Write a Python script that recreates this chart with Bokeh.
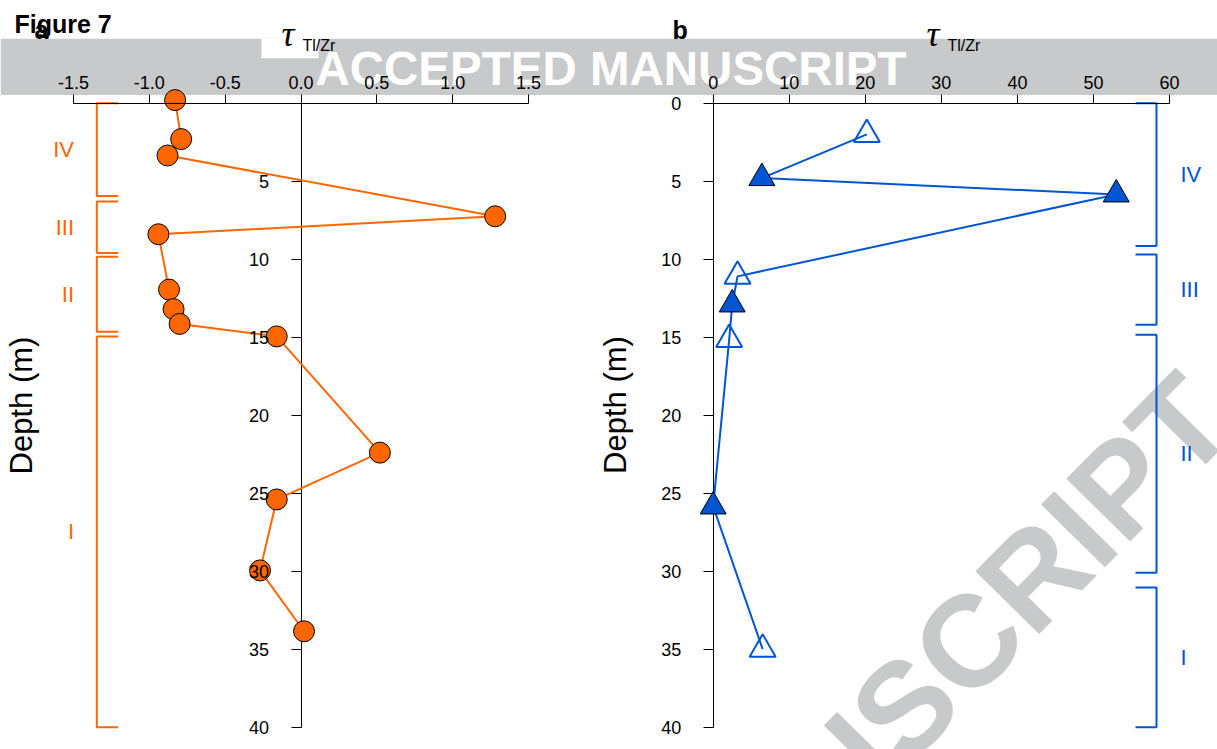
import math
from bokeh.plotting import figure
from bokeh.models import Range1d, LinearAxis, FixedTicker, PrintfTickFormatter
from bokeh.core.properties import value
from bokeh.embed import file_html
from bokeh.resources import INLINE

# ---------------- data ----------------
# panel a: tau Tl/Zr vs depth (circles)
tau_a = [-0.83, -0.79, -0.88, 1.28, -0.94, -0.87, -0.84, -0.80, -0.16, 0.52, -0.16, -0.27, 0.02]
depth_a = [-0.2, 2.3, 3.35, 7.25, 8.4, 11.95, 13.2, 14.15, 14.95, 22.4, 25.4, 29.95, 33.85]

# panel b: tau Tl/Zr vs depth (triangles; filled / open)
tau_b = [20.2, 6.4, 53.0, 3.2, 2.5, 2.1, 0.0, 6.5]
depth_b = [2.0, 4.8, 5.85, 11.1, 12.9, 15.15, 25.85, 35.0]
filled_b = [False, True, True, False, True, False, True, False]

# stratigraphic units
units = ["IV", "III", "II", "I"]
unit_top_a = [0.0, 6.3, 9.85, 14.95]
unit_bot_a = [5.95, 9.6, 14.65, 40.0]
unit_top_b = [0.0, 9.7, 14.85, 31.05]
unit_bot_b = [9.15, 14.2, 30.1, 40.0]

xticks_a = [-1.5, -1.0, -0.5, 0.0, 0.5, 1.0, 1.5]
xticks_b = [0, 10, 20, 30, 40, 50, 60]
yticks_a = [5, 10, 15, 20, 25, 30, 35, 40]
yticks_b = [0, 5, 10, 15, 20, 25, 30, 35, 40]

# ---------------- layout / style ----------------
W, H = 1217, 749
PX0_A, SCALE_A = 300.5, 151.7
PX0_B, SCALE_B = 712.7, 7.605
PY0, SCALE_Y = 102.7, 15.6

ORANGE = "#FF6600"
BLUE = "#0055D4"
GRAY = "#C8C9CB"
SANS = "Liberation Sans"


def ax(px):
    return (px - PX0_A) / SCALE_A


def bx(px):
    return (px - PX0_B) / SCALE_B


def dy(py):
    return (py - PY0) / SCALE_Y


x_range = Range1d(ax(0), ax(W))
y_range = Range1d(dy(H), dy(0))

p = figure(width=W, height=H, x_range=x_range, y_range=y_range,
           x_axis_type=None, y_axis_type=None, title=None,
           toolbar_location=None, output_backend="svg", min_border=0)
p.extra_x_ranges = {"b": Range1d(bx(0), bx(W))}
p.outline_line_color = None
p.background_fill_color = "white"
p.border_fill_color = "white"

# watermark band and white title boxes
p.quad(left=[ax(0)], right=[ax(W)], top=[dy(38.3)], bottom=[dy(94.5)],
       fill_color=GRAY, line_color=None)
p.quad(left=[ax(261), ax(906)], right=[ax(318), ax(963)], top=[dy(38.3)], bottom=[dy(57.7)],
       fill_color="white", line_color=None)
p.text(x=[ax(610.5)], y=[dy(68)], text=["ACCEPTED MANUSCRIPT"], text_color="white",
       text_font=value(SANS), text_font_size="47.5px", text_font_style="bold",
       text_align="center", text_baseline="middle")
# diagonal watermark
WM_ANG = math.radians(45.5)
p.text(x=[ax(1208)], y=[dy(397)], text=["ACCEPTED MANUSCRIPT"], text_color=GRAY,
       text_font=value(SANS), text_font_size="130px", text_font_style="bold",
       angle=WM_ANG, text_align="right", text_baseline="middle")


def make_axis(dim, fixed, bounds, ticks, range_name=None, labels=True, line=True, fmt=None):
    kw = {}
    if range_name:
        kw["x_range_name"] = range_name
    a = LinearAxis(fixed_location=fixed, bounds=bounds, ticker=FixedTicker(ticks=ticks), **kw)
    if fmt:
        a.formatter = fmt
    a.minor_tick_line_color = None
    a.major_tick_in = 0
    a.major_tick_out = 9 if dim == "x" else 10
    a.major_label_standoff = 5 if dim == "x" else 22
    a.major_label_text_font = SANS
    a.major_label_text_font_size = "18px"
    a.major_label_text_color = "black"
    a.axis_line_color = "black" if line else None
    a.major_tick_line_color = "black" if line else None
    a.axis_line_width = 1
    a.major_tick_line_width = 1
    if not labels:
        a.major_label_text_alpha = 0.0
        a.level = "underlay"
    return a


# y axes: line/ticks under the markers, labels above
p.add_layout(make_axis("y", 0, (0, 40), yticks_a, labels=False), "left")
p.add_layout(make_axis("y", 0, (0, 40), yticks_a, line=False), "left")
p.add_layout(make_axis("y", 0, (0, 40), yticks_b, range_name="b", labels=False), "left")
p.add_layout(make_axis("y", 0, (0, 40), yticks_b, range_name="b", line=False), "left")
# x axes on top
p.add_layout(make_axis("x", 0, (-1.5, 1.5), xticks_a, fmt=PrintfTickFormatter(format="%.1f")), "above")
p.add_layout(make_axis("x", 0, (0, 60), xticks_b, range_name="b"), "above")

# ---------------- panel a ----------------
p.line(tau_a, depth_a, line_color=ORANGE, line_width=2)
p.scatter(tau_a, depth_a, marker="circle", size=21, fill_color=ORANGE,
          line_color="black", line_width=1)

vx_a, tx_a = ax(96.3), ax(117.7)
p.multi_line(xs=[[tx_a, vx_a, vx_a, tx_a] for _ in units],
             ys=[[t, t, b, b] for t, b in zip(unit_top_a, unit_bot_a)],
             line_color=ORANGE, line_width=2)
p.text(x=[ax(73.5)] * len(units), y=[(t + b) / 2 for t, b in zip(unit_top_a, unit_bot_a)],
       text=units, text_color=ORANGE, text_font=value(SANS), text_font_size="22px",
       text_align="right", text_baseline="middle")

# ---------------- panel b ----------------
p.line(tau_b, depth_b, x_range_name="b", line_color=BLUE, line_width=2)
fx = [t for t, f in zip(tau_b, filled_b) if f]
fy = [d for d, f in zip(depth_b, filled_b) if f]
ox = [t for t, f in zip(tau_b, filled_b) if not f]
oy = [d for d, f in zip(depth_b, filled_b) if not f]
p.scatter(fx, fy, x_range_name="b", marker="triangle", size=26, fill_color=BLUE,
          line_color="black", line_width=1)
p.scatter(ox, oy, x_range_name="b", marker="triangle", size=26, fill_alpha=0,
          line_color=BLUE, line_width=2)

vx_b, tx_b = bx(1156), bx(1135)
p.multi_line(xs=[[tx_b, vx_b, vx_b, tx_b] for _ in units],
             ys=[[t, t, b, b] for t, b in zip(unit_top_b, unit_bot_b)],
             x_range_name="b", line_color=BLUE, line_width=2)
p.text(x=[bx(1180)] * len(units), y=[(t + b) / 2 for t, b in zip(unit_top_b, unit_bot_b)],
       x_range_name="b", text=units, text_color=BLUE, text_font=value(SANS),
       text_font_size="22px", text_align="left", text_baseline="middle")

# ---------------- titles and labels ----------------
p.text(x=[ax(14)], y=[dy(23.2)], text=["Figure 7"], text_font=value(SANS),
       text_font_size="25px", text_font_style="bold", text_align="left",
       text_baseline="middle", text_color="black")
p.text(x=[ax(34), ax(672)], y=[dy(29), dy(29)], text=["a", "b"], text_font=value(SANS),
       text_font_size="25px", text_font_style="bold", text_align="left",
       text_baseline="middle", text_color="black")
p.text(x=[ax(281), ax(926)], y=[dy(33), dy(33)], text=["\u03c4", "\u03c4"],
       text_font=value("Liberation Serif"), text_font_size="36px", text_font_style="italic",
       text_align="left", text_baseline="middle", text_color="black")
p.text(x=[ax(302), ax(947)], y=[dy(45), dy(45)], text=["Tl/Zr", "Tl/Zr"],
       text_font=value(SANS), text_font_size="16px", text_align="left",
       text_baseline="middle", text_color="black")
p.text(x=[ax(21.2), ax(615.4)], y=[dy(405), dy(404.5)], text=["Depth (m)", "Depth (m)"],
       text_font=value(SANS), text_font_size="31px", angle=math.pi / 2,
       text_align="center", text_baseline="middle", text_color="black")

open("out.html", "w").write(file_html(p, INLINE))
